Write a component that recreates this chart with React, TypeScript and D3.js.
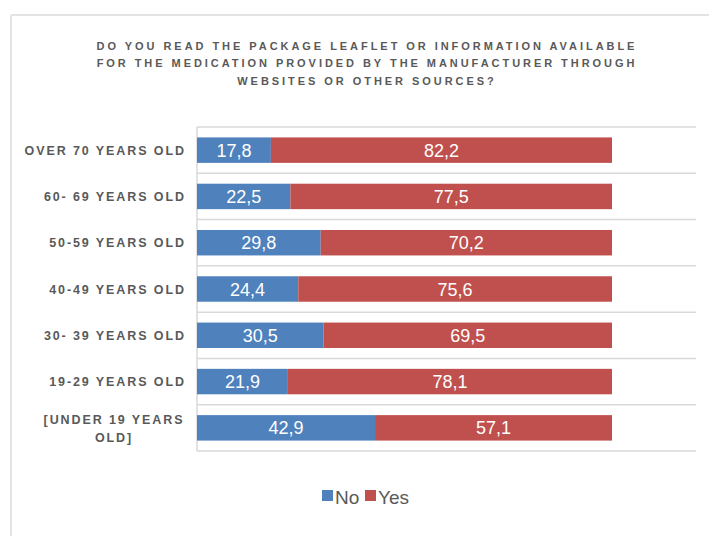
import React from "react";
import * as d3 from "d3";

const categories: string[][] = [
  ["OVER 70 YEARS OLD"],
  ["60- 69 YEARS OLD"],
  ["50-59 YEARS OLD"],
  ["40-49 YEARS OLD"],
  ["30- 39 YEARS OLD"],
  ["19-29 YEARS OLD"],
  ["[UNDER 19 YEARS", "OLD]"],
];
const noValues = [17.8, 22.5, 29.8, 24.4, 30.5, 21.9, 42.9];
const yesValues = [82.2, 77.5, 70.2, 75.6, 69.5, 78.1, 57.1];
const seriesNames = ["No", "Yes"];
const titleLines = [
  "DO YOU READ THE PACKAGE LEAFLET OR INFORMATION AVAILABLE",
  "FOR THE MEDICATION PROVIDED BY THE MANUFACTURER THROUGH",
  "WEBSITES OR OTHER SOURCES?",
];

const W = 709;
const H = 536;
const colors = ["#4F81BD", "#C0504D"];
const textGray = "#595959";

export default function App() {
  const plotLeft = 197;
  const plotTop = 127;
  const plotBottom = 451;
  const gridRight = 696;
  const x = d3.scaleLinear().domain([0, 100]).range([plotLeft, 612]);
  const y = d3
    .scaleBand<number>()
    .domain(d3.range(categories.length))
    .range([plotTop, plotBottom])
    .paddingInner(0.45)
    .paddingOuter(0.225);
  const band = (plotBottom - plotTop) / categories.length;
  const fmt = (v: number) => v.toFixed(1).replace(".", ",");
  const font = "'Liberation Sans', Arial, sans-serif";
  const labelSpacing = 1.9;

  return (
    <svg
      width={W}
      height={H}
      style={{ position: "absolute", left: 0, top: 0, background: "#fff" }}
    >
      {/* frame */}
      <line x1={11} y1={15} x2={11} y2={H} stroke="#e3e3e3" strokeWidth={2} />
      <line x1={11} y1={15} x2={W} y2={15} stroke="#e3e3e3" strokeWidth={2} />

      {/* title */}
      {titleLines.map((t, i) => (
        <text
          key={i}
          x={367}
          y={49.5 + i * 17.8}
          textAnchor="middle"
          fontFamily={font}
          fontWeight="bold"
          fontSize={11}
          letterSpacing={2.95}
          fill={textGray}
        >
          {t}
        </text>
      ))}

      {/* gridlines */}
      {d3.range(categories.length + 1).map((i) => (
        <line
          key={i}
          x1={plotLeft}
          x2={gridRight}
          y1={plotTop + i * band}
          y2={plotTop + i * band}
          stroke="#d9d9d9"
          strokeWidth={1.5}
        />
      ))}
      <line
        x1={plotLeft}
        x2={plotLeft}
        y1={plotTop}
        y2={plotBottom}
        stroke="#d9d9d9"
        strokeWidth={1.5}
      />

      {/* bars */}
      {categories.map((c, i) => {
        const y0 = y(i)!;
        const h = y.bandwidth();
        const no = noValues[i];
        const yes = yesValues[i];
        return (
          <g key={i}>
            <rect x={x(0)} y={y0} width={x(no) - x(0)} height={h} fill={colors[0]} />
            <rect x={x(no)} y={y0} width={x(no + yes) - x(no)} height={h} fill={colors[1]} />
            <text
              x={(x(0) + x(no)) / 2}
              y={y0 + h / 2 + 6.5}
              textAnchor="middle"
              fontFamily={font}
              fontSize={18}
              fill="#fff"
            >
              {fmt(no)}
            </text>
            <text
              x={(x(no) + x(no + yes)) / 2}
              y={y0 + h / 2 + 6.5}
              textAnchor="middle"
              fontFamily={font}
              fontSize={18}
              fill="#fff"
            >
              {fmt(yes)}
            </text>
          </g>
        );
      })}

      {/* category labels */}
      {categories.map((lines, i) => {
        const cy = y(i)! + y.bandwidth() / 2;
        if (lines.length === 1) {
          return (
            <text
              key={i}
              x={184 + labelSpacing}
              y={cy + 4.5}
              textAnchor="end"
              fontFamily={font}
              fontWeight="bold"
              fontSize={12.5}
              letterSpacing={labelSpacing}
              fill={textGray}
            >
              {lines[0]}
            </text>
          );
        }
        return (
          <g key={i}>
            {lines.map((l, j) => (
              <text
                key={j}
                x={114}
                y={cy - 4 + j * 18}
                textAnchor="middle"
                fontFamily={font}
                fontWeight="bold"
                fontSize={12.5}
                letterSpacing={labelSpacing}
                fill={textGray}
              >
                {l}
              </text>
            ))}
          </g>
        );
      })}

      {/* legend */}
      <rect x={322} y={490} width={11} height={11} fill={colors[0]} />
      <text x={335} y={504} fontFamily={font} fontSize={19} fill={textGray}>
        {seriesNames[0]}
      </text>
      <rect x={365} y={490} width={11} height={11} fill={colors[1]} />
      <text x={378} y={504} fontFamily={font} fontSize={19} fill={textGray}>
        {seriesNames[1]}
      </text>
    </svg>
  );
}
